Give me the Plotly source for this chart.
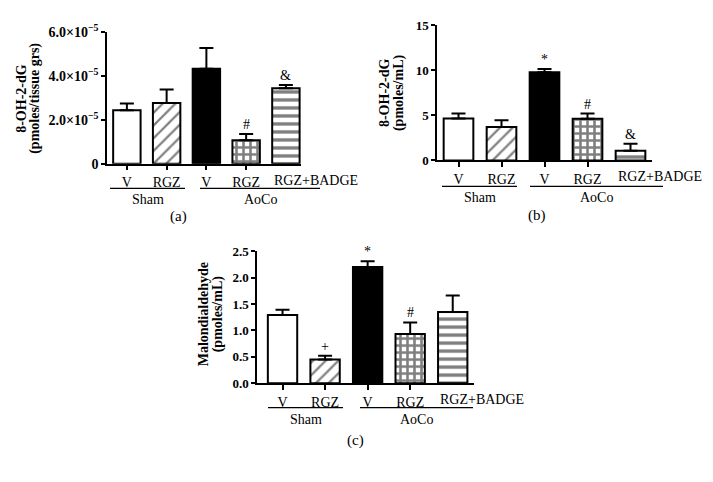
import plotly.graph_objects as go

# ---------------- data ----------------
categories = ["V", "RGZ", "V", "RGZ", "RGZ+BADGE"]
groups = ["Sham", "Sham", "AoCo", "AoCo", "AoCo"]

a_mean = [2.43e-5, 2.77e-5, 4.33e-5, 1.07e-5, 3.44e-5]
a_err = [0.31e-5, 0.61e-5, 0.94e-5, 0.28e-5, 0.14e-5]
a_marks = ["", "", "", "#", "&"]
a_ticks = [0, 2e-5, 4e-5, 6e-5]
a_ticktext = ["0", "2.0×10<sup>−5</sup>", "4.0×10<sup>−5</sup>", "6.0×10<sup>−5</sup>"]

b_mean = [4.63, 3.70, 9.77, 4.62, 1.07]
b_err = [0.56, 0.74, 0.36, 0.57, 0.78]
b_marks = ["", "", "*", "#", "&"]
b_ticks = [0, 5, 10, 15]
b_ticktext = ["0", "5", "10", "15"]

c_mean = [1.29, 0.45, 2.20, 0.93, 1.35]
c_err = [0.10, 0.07, 0.11, 0.22, 0.31]
c_marks = ["", "+", "*", "#", ""]
c_ticks = [0, 0.5, 1.0, 1.5, 2.0, 2.5]
c_ticktext = ["0.0", "0.5", "1.0", "1.5", "2.0", "2.5"]

# ---------------- styles ----------------
OFF = 8                      # default page body margin
W, H = 713 - OFF, 482 - OFF  # figure size so it fills the window
FONT = "Liberation Serif"
fills = ["white", "white", "black", "white", "white"]
pat_shape = ["", "/", "", "+", "-"]
pat_size = [8, 9, 8, 7, 8]
pat_solid = [0.2, 0.25, 0.2, 0.6, 0.42]


def px(x):
    return (x - OFF) / W


def py(y):
    return 1 - (y - OFF) / H


panels = [
    dict(key="", mean=a_mean, err=a_err, marks=a_marks, ticks=a_ticks, ticktext=a_ticktext,
         yrange=[0, 6e-5], xdom=(107, 301), ydom=(159.5, 22.5), xrange=[-0.5, 4.38], tfs=14,
         title=("8-OH-2-dG", "(pmoles/tissue grs)"), tx=(22, 35), ty=92,
         sham=(110, 185), aoco=(200, 320), gy=185, caption="(a)", cap_pos=(178, 214)),
    dict(key="2", mean=b_mean, err=b_err, marks=b_marks, ticks=b_ticks, ticktext=b_ticktext,
         yrange=[0, 15], xdom=(437, 652), ydom=(156, 15.3), xrange=[-0.5, 4.5], tfs=13,
         title=("8-OH-2-dG", "(pmoles/mL)"), tx=(384, 399), ty=86,
         sham=(442, 517), aoco=(530, 663), gy=183, caption="(b)", cap_pos=(537, 213)),
    dict(key="3", mean=c_mean, err=c_err, marks=c_marks, ticks=c_ticks, ticktext=c_ticktext,
         yrange=[0, 2.5], xdom=(257, 474), ydom=(387.7, 250.3), xrange=[-0.6, 4.5], tfs=13,
         title=("Malondialdehyde", "(pmoles/mL)"), tx=(203, 218), ty=316,
         sham=(268, 343), aoco=(360, 473), gy=413, caption="(c)", cap_pos=(355, 447)),
]

BAR_W = 0.69
fig = go.Figure()
annotations = []
shapes = []
layout = {}
xs = list(range(len(categories)))

for p in panels:
    k = p["key"]
    xa, ya = "x" + k, "y" + k
    for i in xs:
        fig.add_trace(go.Bar(
            x=[xs[i]], y=[p["mean"][i]], xaxis=xa, yaxis=ya, width=BAR_W,
            marker=dict(color=fills[i], line=dict(color="black", width=2),
                        pattern=dict(shape=pat_shape[i], fgcolor="black", bgcolor=fills[i],
                                     size=pat_size[i], solidity=pat_solid[i])),
            error_y=dict(type="data", array=[p["err"][i]], arrayminus=[0], symmetric=False,
                         color="black", thickness=2, width=7),
            showlegend=False, hoverinfo="skip",
        ))
    layout["xaxis" + k] = dict(
        domain=[px(p["xdom"][0]), px(p["xdom"][1])], anchor=ya, range=p["xrange"],
        showline=True, linecolor="black", linewidth=1.5, ticks="outside", ticklen=5,
        tickwidth=1.5, tickcolor="black", tickvals=xs[:4], ticktext=categories[:4],
        tickfont=dict(family=FONT, size=14, color="black"), showgrid=False, zeroline=False,
    )
    layout["yaxis" + k] = dict(
        domain=[py(p["ydom"][0]), py(p["ydom"][1])], anchor=xa, range=p["yrange"],
        showline=True, linecolor="black", linewidth=1.5, ticks="outside", ticklen=4,
        tickwidth=1.5, tickcolor="black", tickvals=p["ticks"], ticktext=p["ticktext"],
        tickfont=dict(family=FONT, size=p["tfs"], color="black", weight="bold"),
        showgrid=False, zeroline=False,
    )
    # last category label (drawn shifted right as in the original)
    annotations.append(dict(
        x=xs[4] - BAR_W / 2, y=0, xref=xa, yref=ya, xanchor="left", yanchor="top",
        yshift=-7, text=categories[4], showarrow=False,
        font=dict(family=FONT, size=14, color="black")))
    # significance markers
    for i, m in enumerate(p["marks"]):
        if m:
            annotations.append(dict(
                x=xs[i], y=p["mean"][i] + p["err"][i], xref=xa, yref=ya,
                xanchor="center", yanchor="bottom", yshift=0, text=m, showarrow=False,
                font=dict(family=FONT, size=14, color="black")))
    # y title (two lines)
    for line, tx in zip(p["title"], p["tx"]):
        annotations.append(dict(
            x=px(tx), y=py(p["ty"]), xref="paper", yref="paper",
            xanchor="center", yanchor="middle", textangle=-90, text="<b>" + line + "</b>",
            showarrow=False, font=dict(family=FONT, size=14, color="black")))
    # group lines and labels
    for (x0, x1), name in ((p["sham"], "Sham"), (p["aoco"], "AoCo")):
        shapes.append(dict(type="line", xref="paper", yref="paper",
                           x0=px(x0), x1=px(x1), y0=py(p["gy"]), y1=py(p["gy"]),
                           line=dict(color="black", width=1.3)))
        annotations.append(dict(
            x=px((x0 + x1) / 2), y=py(p["gy"] + 2), xref="paper", yref="paper",
            xanchor="center", yanchor="top", text=name, showarrow=False,
            font=dict(family=FONT, size=14, color="black")))
    # caption
    annotations.append(dict(
        x=px(p["cap_pos"][0]), y=py(p["cap_pos"][1]), xref="paper", yref="paper",
        xanchor="center", yanchor="middle", text=p["caption"], showarrow=False,
        font=dict(family=FONT, size=15, color="black")))

fig.update_layout(
    width=W, height=H, margin=dict(l=0, r=0, t=0, b=0),
    paper_bgcolor="white", plot_bgcolor="white",
    font=dict(family=FONT, color="black"),
    annotations=annotations, shapes=shapes, barmode="overlay", **layout,
)

fig.write_html("out.html")
